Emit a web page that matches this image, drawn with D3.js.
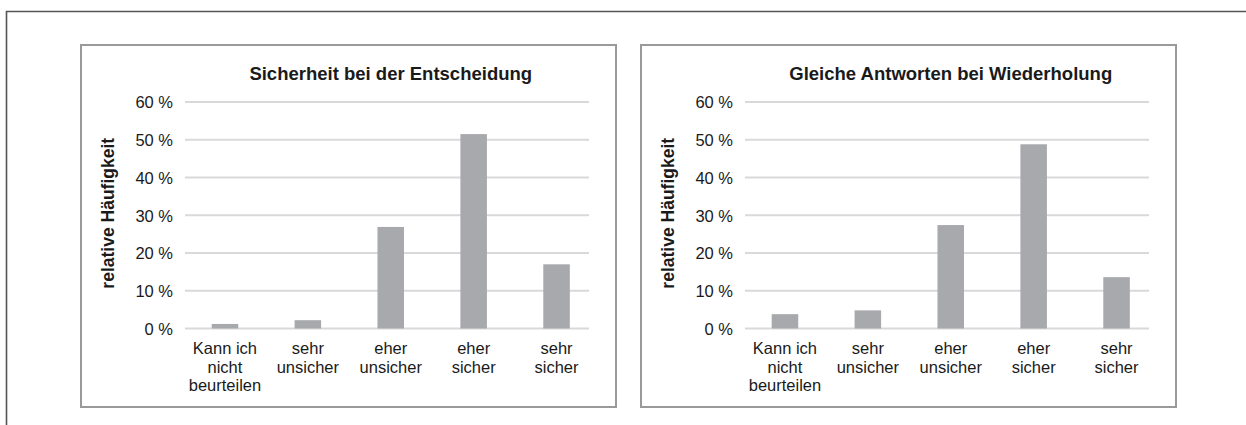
<!DOCTYPE html>
<html>
<head>
<meta charset="utf-8">
<script src="https://cdn.jsdelivr.net/npm/d3@7"></script>
<style>
  body { margin: 0; background: #fff; }
  text { font-family: Arial, "Liberation Sans", sans-serif; fill: #1a1a1a; }
</style>
</head>
<body>
<svg id="chart"></svg>
<script>
// data
const categories = ["Kann ich\nnicht\nbeurteilen", "sehr\nunsicher", "eher\nunsicher", "eher\nsicher", "sehr\nsicher"];
const titles = ["Sicherheit bei der Entscheidung", "Gleiche Antworten bei Wiederholung"];
const sicherheitValues = [1.2, 2.2, 26.9, 51.5, 17.0];
const wiederholungValues = [3.8, 4.8, 27.4, 48.8, 13.6];
const yTicks = [0, 10, 20, 30, 40, 50, 60];
const yLabel = "relative Häufigkeit";

const width = 1246, height = 425;
const svg = d3.select("#chart").attr("width", width).attr("height", height);

// outer frame (top + left only)
svg.append("path")
    .attr("d", "M6.5,425 V11.5 H1246")
    .attr("fill", "none")
    .attr("stroke", "#555")
    .attr("stroke-width", 1.6);

function drawPanel(offset, title, values) {
    const g = svg.append("g").attr("transform", `translate(${offset},0)`);

    // panel border
    g.append("rect")
        .attr("x", 81).attr("y", 45)
        .attr("width", 535).attr("height", 362)
        .attr("fill", "#fff")
        .attr("stroke", "#9a9a9a")
        .attr("stroke-width", 2);

    const x = d3.scaleBand()
        .domain(categories)
        .range([183.5, 598])
        .paddingInner(0.68)
        .paddingOuter(0.34);

    const y = d3.scaleLinear()
        .domain([0, 60])
        .range([328.5, 102]);

    // gridlines
    g.append("g")
        .selectAll("line")
        .data(yTicks)
        .join("line")
        .attr("x1", 185).attr("x2", 589)
        .attr("y1", d => y(d)).attr("y2", d => y(d))
        .attr("stroke", "#d9d9d9")
        .attr("stroke-width", 2);

    // y axis labels
    const yAxis = d3.axisLeft(y)
        .tickValues(yTicks)
        .tickSize(0)
        .tickPadding(0)
        .tickFormat(d => d + " %");
    g.append("g")
        .attr("transform", "translate(173,0)")
        .call(yAxis)
        .call(a => a.select(".domain").remove())
        .selectAll("text")
        .attr("font-size", 16.5)
        .attr("font-family", "Arial, 'Liberation Sans', sans-serif")
        .attr("fill", "#1a1a1a")
        .attr("dy", "0.36em");

    // bars
    g.append("g")
        .selectAll("rect")
        .data(values)
        .join("rect")
        .attr("x", (d, i) => x(categories[i]))
        .attr("width", x.bandwidth())
        .attr("y", d => y(d))
        .attr("height", d => y(0) - y(d))
        .attr("fill", "#a8a9ac");

    // category labels
    const labels = g.append("g")
        .selectAll("text")
        .data(categories)
        .join("text")
        .attr("text-anchor", "middle")
        .attr("font-size", 16.5)
        .attr("x", d => x(d) + x.bandwidth() / 2)
        .attr("y", 354);
    labels.selectAll("tspan")
        .data(d => d.split("\n"))
        .join("tspan")
        .attr("x", function () { return d3.select(this.parentNode).attr("x"); })
        .attr("dy", (d, i) => i === 0 ? 0 : 18.5)
        .text(d => d);

    // title
    g.append("text")
        .attr("x", (x.range()[0] + x.range()[1]) / 2)
        .attr("y", 80)
        .attr("text-anchor", "middle")
        .attr("font-size", 18.5)
        .attr("font-weight", "bold")
        .text(title);

    // y axis title
    g.append("text")
        .attr("transform", `translate(114,${(y(0) + y(60)) / 2 - 2}) rotate(-90)`)
        .attr("text-anchor", "middle")
        .attr("font-size", 17.5)
        .attr("font-weight", "bold")
        .text(yLabel);
}

drawPanel(0, titles[0], sicherheitValues);
drawPanel(560, titles[1], wiederholungValues);
</script>
</body>
</html>
